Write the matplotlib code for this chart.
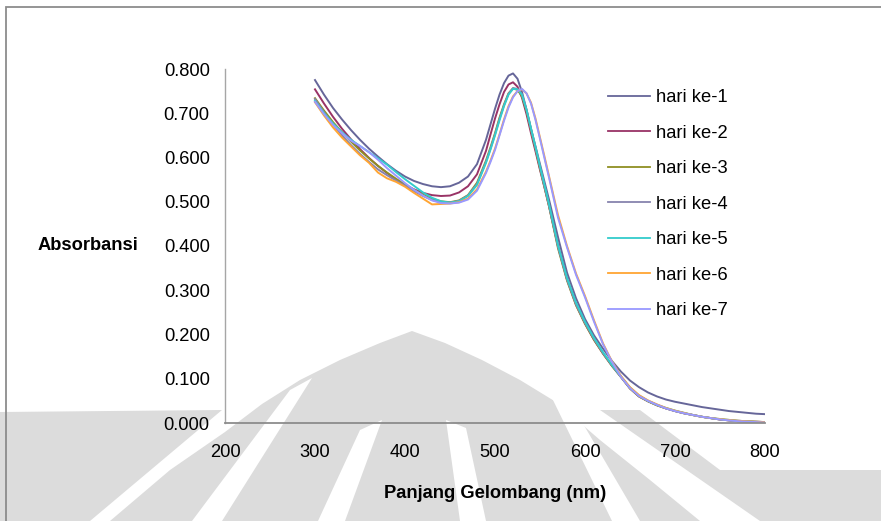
import matplotlib
matplotlib.use("Agg")
import matplotlib.pyplot as plt
from matplotlib.patches import Polygon, Rectangle

W, H = 881, 521
plt.rcParams['font.family'] = ['Liberation Sans', 'DejaVu Sans']

wavelength = [300, 310, 320, 330, 340, 350, 360, 370, 380, 390,
              400, 410, 420, 430, 440, 450, 460, 470, 480, 490,
              495, 500, 505, 510, 515, 520, 525, 530, 535, 540, 545, 550, 555, 560,
              570, 580, 590, 600, 610, 620, 630, 640, 650, 660, 670, 680,
              690, 700, 710, 720, 730, 740, 750, 760, 770, 780, 790, 800]

hari_1 = [0.775, 0.742, 0.712, 0.686, 0.662, 0.640, 0.620, 0.602, 0.585, 0.570,
          0.557, 0.547, 0.540, 0.535, 0.533, 0.535, 0.543, 0.557, 0.585, 0.640,
          0.675, 0.710, 0.742, 0.768, 0.785, 0.790, 0.778, 0.748, 0.708, 0.665, 0.625, 0.585, 0.545, 0.505,
          0.420, 0.340, 0.282, 0.235, 0.198, 0.168, 0.140, 0.116, 0.096, 0.081, 0.069, 0.060,
          0.053, 0.048, 0.044, 0.040, 0.036, 0.033, 0.030, 0.027, 0.025, 0.023, 0.021, 0.020]
hari_2 = [0.754, 0.722, 0.692, 0.665, 0.641, 0.619, 0.599, 0.581, 0.565, 0.550,
          0.538, 0.528, 0.520, 0.515, 0.513, 0.514, 0.521, 0.535, 0.562, 0.615,
          0.652, 0.688, 0.720, 0.748, 0.765, 0.770, 0.760, 0.735, 0.698, 0.655, 0.614, 0.572, 0.532, 0.490,
          0.400, 0.325, 0.268, 0.225, 0.188, 0.157, 0.129, 0.104, 0.078, 0.060, 0.049, 0.040,
          0.033, 0.027, 0.022, 0.018, 0.014, 0.011, 0.008, 0.006, 0.005, 0.004, 0.003, 0.002]
hari_3 = [0.734, 0.706, 0.680, 0.657, 0.636, 0.616, 0.598, 0.581, 0.566, 0.552,
          0.539, 0.527, 0.516, 0.507, 0.501, 0.499, 0.503, 0.515, 0.543, 0.593,
          0.623, 0.655, 0.690, 0.720, 0.745, 0.756, 0.753, 0.738, 0.705, 0.662, 0.620, 0.575, 0.533, 0.490,
          0.395, 0.322, 0.266, 0.224, 0.188, 0.157, 0.129, 0.104, 0.078, 0.060, 0.049, 0.040,
          0.033, 0.027, 0.022, 0.018, 0.014, 0.011, 0.008, 0.006, 0.004, 0.003, 0.002, 0.001]
hari_4 = [0.732, 0.702, 0.675, 0.650, 0.628, 0.608, 0.590, 0.573, 0.560, 0.548,
          0.536, 0.524, 0.513, 0.504, 0.499, 0.498, 0.502, 0.514, 0.540, 0.590,
          0.620, 0.652, 0.687, 0.718, 0.744, 0.757, 0.755, 0.742, 0.708, 0.664, 0.622, 0.578, 0.535, 0.492,
          0.398, 0.324, 0.268, 0.226, 0.190, 0.158, 0.130, 0.104, 0.079, 0.061, 0.050, 0.041,
          0.033, 0.027, 0.022, 0.018, 0.014, 0.011, 0.008, 0.006, 0.004, 0.003, 0.002, 0.001]
hari_5 = [0.728, 0.700, 0.677, 0.657, 0.640, 0.626, 0.612, 0.598, 0.584, 0.567,
          0.551, 0.536, 0.521, 0.509, 0.501, 0.498, 0.501, 0.513, 0.538, 0.588,
          0.618, 0.650, 0.684, 0.716, 0.742, 0.755, 0.754, 0.742, 0.708, 0.666, 0.624, 0.580, 0.538, 0.495,
          0.402, 0.328, 0.272, 0.229, 0.192, 0.160, 0.131, 0.105, 0.080, 0.062, 0.050, 0.041,
          0.034, 0.028, 0.023, 0.018, 0.014, 0.011, 0.009, 0.007, 0.005, 0.004, 0.003, 0.002]
hari_6 = [0.725, 0.695, 0.668, 0.645, 0.625, 0.605, 0.588, 0.566, 0.553, 0.545,
          0.534, 0.520, 0.507, 0.494, 0.495, 0.496, 0.499, 0.507, 0.528, 0.568,
          0.593, 0.620, 0.652, 0.686, 0.716, 0.738, 0.750, 0.754, 0.745, 0.724, 0.688, 0.645, 0.602, 0.558,
          0.470, 0.400, 0.338, 0.287, 0.232, 0.180, 0.139, 0.106, 0.081, 0.063, 0.051, 0.042,
          0.034, 0.028, 0.023, 0.018, 0.014, 0.011, 0.009, 0.007, 0.005, 0.004, 0.003, 0.002]
hari_7 = [0.726, 0.698, 0.674, 0.655, 0.638, 0.626, 0.612, 0.595, 0.576, 0.559,
          0.542, 0.527, 0.514, 0.503, 0.497, 0.496, 0.498, 0.505, 0.525, 0.565,
          0.590, 0.617, 0.650, 0.683, 0.713, 0.736, 0.750, 0.755, 0.745, 0.722, 0.685, 0.642, 0.598, 0.555,
          0.464, 0.397, 0.335, 0.284, 0.229, 0.178, 0.138, 0.104, 0.079, 0.061, 0.050, 0.041,
          0.033, 0.027, 0.022, 0.018, 0.014, 0.011, 0.008, 0.006, 0.004, 0.003, 0.002, 0.001]

series_labels = ["hari ke-1", "hari ke-2", "hari ke-3", "hari ke-4",
                 "hari ke-5", "hari ke-6", "hari ke-7"]
series_values = [hari_1, hari_2, hari_3, hari_4, hari_5, hari_6, hari_7]
colors = ["#666699", "#993366", "#8f8f22", "#8783ae", "#33cccc", "#ffa533", "#9999ff"]

x_ticks = [200, 300, 400, 500, 600, 700, 800]
y_ticks = [0.0, 0.1, 0.2, 0.3, 0.4, 0.5, 0.6, 0.7, 0.8]

fig = plt.figure(figsize=(W / 100, H / 100), dpi=100)
fig.patch.set_facecolor("white")


def fp(x, y):
    return (x / W, 1 - y / H)


# background watermark (light grey logo), in figure pixel coordinates
wm_grey = "#dcdcdc"
shapes = [
    # central bell
    [(110, 521), (170, 470), (225, 432), (262, 404), (300, 380), (340, 360),
     (380, 343), (412, 331), (445, 343), (482, 360), (520, 380), (556, 402),
     (600, 440), (650, 480), (700, 521)],
    # left shoulder
    [(0, 412), (222, 410), (90, 521), (0, 521)],
    # right shoulder
    [(600, 410), (640, 410), (720, 470), (881, 470), (881, 521), (760, 521)],
]
for s in shapes:
    fig.patches.append(Polygon([fp(*p) for p in s], closed=True, transform=fig.transFigure,
                               facecolor=wm_grey, edgecolor="none", zorder=0))
stripes = [
    [(290, 390), (312, 378), (222, 521), (192, 521)],
    [(360, 430), (382, 420), (345, 521), (318, 521)],
    [(446, 420), (466, 428), (486, 521), (460, 521)],
    [(552, 398), (575, 410), (640, 521), (612, 521)],
]
for s in stripes:
    fig.patches.append(Polygon([fp(*p) for p in s], closed=True, transform=fig.transFigure,
                               facecolor="white", edgecolor="none", zorder=0.5))

# chart area border (partly cropped)
fig.patches.append(Rectangle(fp(5.5, 530), 900 / W, (530 - 6.5) / H, transform=fig.transFigure,
                             facecolor="none", edgecolor="#8c8c8c", linewidth=1.3, zorder=1))

x0, x1, y0, y1 = 225, 765, 69, 423
ax = fig.add_axes([x0 / W, 1 - y1 / H, (x1 - x0) / W, (y1 - y0) / H])
ax.set_zorder(5)
ax.patch.set_alpha(0)

for vals, lab, c in zip(series_values, series_labels, colors):
    ax.plot(wavelength, vals, color=c, linewidth=1.4, label=lab)

ax.set_xlim(200, 800)
ax.set_ylim(0, 0.8)
ax.set_xticks(x_ticks)
ax.set_yticks(y_ticks)
ax.set_xticklabels([str(v) for v in x_ticks])
ax.set_yticklabels([f"{v:.3f}" for v in y_ticks])
ax.tick_params(axis="both", length=0, labelsize=13.2, colors="#000000")
ax.tick_params(axis="y", pad=11)
ax.tick_params(axis="x", pad=15)

for s in ["top", "right"]:
    ax.spines[s].set_visible(False)
ax.spines["left"].set_color("#a6a6a6")
ax.spines["bottom"].set_color("#8c8c8c")
ax.spines["left"].set_linewidth(1.0)
ax.spines["bottom"].set_linewidth(1.3)

ax.set_ylabel("Absorbansi", rotation=0, fontsize=13.2, fontweight="bold", ha="center", va="center")
ax.yaxis.set_label_coords((87.5 - x0) / (x1 - x0), 0.5)
ax.set_xlabel("Panjang Gelombang (nm)", fontsize=13.2, fontweight="bold", va="center")
ax.xaxis.set_label_coords(0.5, -(494 - y1) / (y1 - y0))

leg = ax.legend(loc="upper left", bbox_to_anchor=fp(608, 89), bbox_transform=fig.transFigure,
                frameon=False, fontsize=13.2, handlelength=2.3, handletextpad=0.3,
                labelspacing=1.01, borderpad=0, borderaxespad=0)
for line in leg.get_lines():
    line.set_linewidth(1.3)

fig.savefig("out.png", dpi=100)
